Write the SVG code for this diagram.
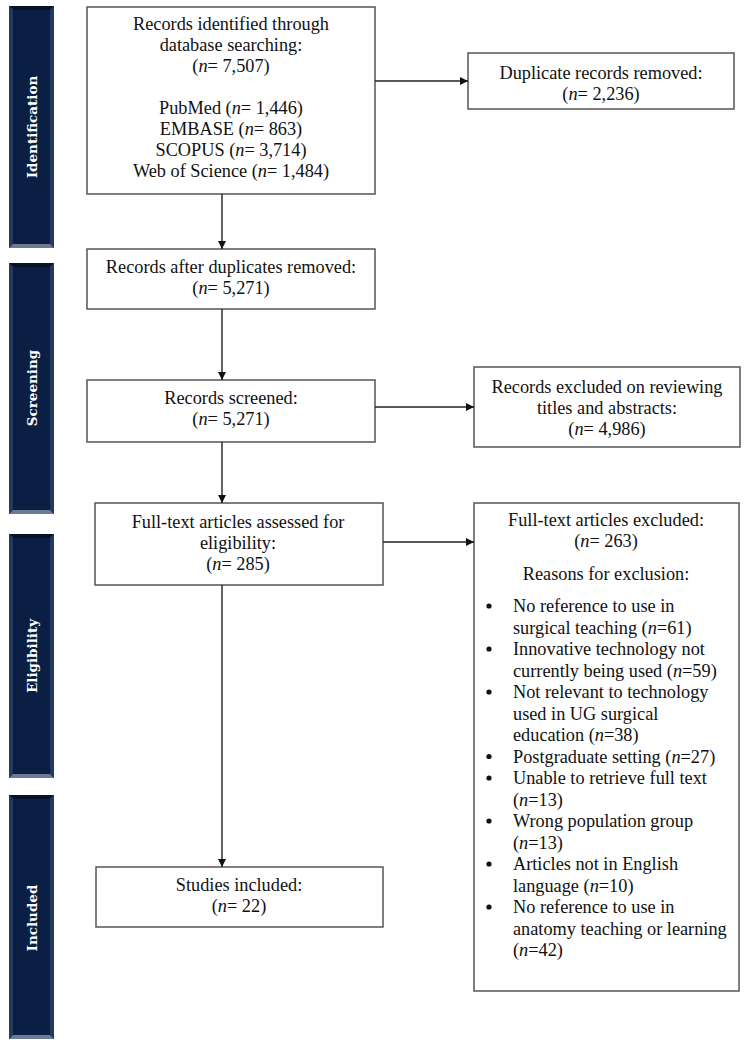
<svg xmlns="http://www.w3.org/2000/svg" width="750" height="1045" viewBox="0 0 750 1045">
<style>
.box{fill:#fff;stroke:#555;stroke-width:1.5}
.t{font-family:"Liberation Serif","Times New Roman",serif;font-size:18.3px;fill:#111;text-anchor:middle}
.tl{font-family:"Liberation Serif","Times New Roman",serif;font-size:18.3px;fill:#111}
.bar-o{fill:#3e5072}
.bar-top{fill:#06122a}
.bar-bot{fill:#6b7b96}
.bar-side{fill:#24395c}
.bar-in{fill:#0b1f44}
.bt{font-family:"DejaVu Serif",serif;font-size:13.5px;font-weight:bold;fill:#fff;text-anchor:middle}
.conn line{stroke:#222;stroke-width:1.4}
</style>
<defs>
<marker id="ah" viewBox="0 0 10 10" refX="10" refY="5" markerUnits="userSpaceOnUse" markerWidth="9" markerHeight="8" orient="auto">
<path d="M0,0 L10,5 L0,10 z" fill="#111"/>
</marker>
</defs>

<g id="phase-identification">
<rect class="bar-o" x="9" y="6" width="45" height="242"/>
<polygon class="bar-top" points="9,6 54,6 50,10 13,10"/>
<polygon class="bar-bot" points="9,248 54,248 50,244 13,244"/>
<polygon class="bar-side" points="9,6 13,10 13,244 9,248"/>
<polygon class="bar-side" points="54,6 50,10 50,244 54,248"/>
<rect class="bar-in" x="13" y="10" width="37" height="234"/>
<text class="bt" transform="translate(36.5,127) rotate(-90)">Identification</text>
</g>
<g id="phase-screening">
<rect class="bar-o" x="9" y="263" width="45" height="251"/>
<polygon class="bar-top" points="9,263 54,263 50,267 13,267"/>
<polygon class="bar-bot" points="9,514 54,514 50,510 13,510"/>
<polygon class="bar-side" points="9,263 13,267 13,510 9,514"/>
<polygon class="bar-side" points="54,263 50,267 50,510 54,514"/>
<rect class="bar-in" x="13" y="267" width="37" height="243"/>
<text class="bt" transform="translate(36.5,388) rotate(-90)">Screening</text>
</g>
<g id="phase-eligibility">
<rect class="bar-o" x="9" y="534" width="45" height="244"/>
<polygon class="bar-top" points="9,534 54,534 50,538 13,538"/>
<polygon class="bar-bot" points="9,778 54,778 50,774 13,774"/>
<polygon class="bar-side" points="9,534 13,538 13,774 9,778"/>
<polygon class="bar-side" points="54,534 50,538 50,774 54,778"/>
<rect class="bar-in" x="13" y="538" width="37" height="236"/>
<text class="bt" transform="translate(36.5,656) rotate(-90)">Eligibility</text>
</g>
<g id="phase-included">
<rect class="bar-o" x="9" y="795" width="45" height="244"/>
<polygon class="bar-top" points="9,795 54,795 50,799 13,799"/>
<polygon class="bar-bot" points="9,1039 54,1039 50,1035 13,1035"/>
<polygon class="bar-side" points="9,795 13,799 13,1035 9,1039"/>
<polygon class="bar-side" points="54,795 50,799 50,1035 54,1039"/>
<rect class="bar-in" x="13" y="799" width="37" height="236"/>
<text class="bt" transform="translate(36.5,918) rotate(-90)">Included</text>
</g>

<g id="records-identified">
<rect class="box" x="87" y="7" width="288" height="187"/>
<text class="t" x="231" y="30">Records identified through</text>
<text class="t" x="231" y="51">database searching:</text>
<text class="t" x="231" y="72">(<tspan font-style="italic">n</tspan>= 7,507)</text>
<text class="t" x="231" y="114">PubMed (<tspan font-style="italic">n</tspan>= 1,446)</text>
<text class="t" x="231" y="135">EMBASE (<tspan font-style="italic">n</tspan>= 863)</text>
<text class="t" x="231" y="156">SCOPUS (<tspan font-style="italic">n</tspan>= 3,714)</text>
<text class="t" x="231" y="177">Web of Science (<tspan font-style="italic">n</tspan>= 1,484)</text>
</g>

<g id="duplicates-removed">
<rect class="box" x="468" y="53" width="266" height="56"/>
<text class="t" x="601" y="79">Duplicate records removed:</text>
<text class="t" x="601" y="100">(<tspan font-style="italic">n</tspan>= 2,236)</text>
</g>

<g id="after-duplicates">
<rect class="box" x="87" y="249" width="288" height="60"/>
<text class="t" x="231" y="273">Records after duplicates removed:</text>
<text class="t" x="231" y="294">(<tspan font-style="italic">n</tspan>= 5,271)</text>
</g>

<g id="records-screened">
<rect class="box" x="87" y="380" width="288" height="62"/>
<text class="t" x="231" y="404">Records screened:</text>
<text class="t" x="231" y="425">(<tspan font-style="italic">n</tspan>= 5,271)</text>
</g>

<g id="records-excluded">
<rect class="box" x="474" y="367" width="266" height="80"/>
<text class="t" x="607" y="393">Records excluded on reviewing</text>
<text class="t" x="607" y="414">titles and abstracts:</text>
<text class="t" x="607" y="435">(<tspan font-style="italic">n</tspan>= 4,986)</text>
</g>

<g id="fulltext-assessed">
<rect class="box" x="95" y="503" width="288" height="82"/>
<text class="t" x="238" y="528">Full-text articles assessed for</text>
<text class="t" x="238" y="549">eligibility:</text>
<text class="t" x="238" y="570">(<tspan font-style="italic">n</tspan>= 285)</text>
</g>

<g id="fulltext-excluded">
<rect class="box" x="474" y="503" width="265" height="488"/>
<text class="t" x="606" y="526">Full-text articles excluded:</text>
<text class="t" x="606" y="547">(<tspan font-style="italic">n</tspan>= 263)</text>
<text class="t" x="606" y="580">Reasons for exclusion:</text>
<g fill="#111">
<circle cx="489" cy="606" r="2.6"/>
<circle cx="489" cy="649" r="2.6"/>
<circle cx="489" cy="692" r="2.6"/>
<circle cx="489" cy="756.5" r="2.6"/>
<circle cx="489" cy="778" r="2.6"/>
<circle cx="489" cy="821" r="2.6"/>
<circle cx="489" cy="864" r="2.6"/>
<circle cx="489" cy="907" r="2.6"/>
</g>
<text class="tl" x="513" y="612">No reference to use in</text>
<text class="tl" x="513" y="633.5">surgical teaching (<tspan font-style="italic">n</tspan>=61)</text>
<text class="tl" x="513" y="655">Innovative technology not</text>
<text class="tl" x="513" y="676.5">currently being used (<tspan font-style="italic">n</tspan>=59)</text>
<text class="tl" x="513" y="698">Not relevant to technology</text>
<text class="tl" x="513" y="719.5">used in UG surgical</text>
<text class="tl" x="513" y="741">education (<tspan font-style="italic">n</tspan>=38)</text>
<text class="tl" x="513" y="762.5">Postgraduate setting (<tspan font-style="italic">n</tspan>=27)</text>
<text class="tl" x="513" y="784">Unable to retrieve full text</text>
<text class="tl" x="513" y="805.5">(<tspan font-style="italic">n</tspan>=13)</text>
<text class="tl" x="513" y="827">Wrong population group</text>
<text class="tl" x="513" y="848.5">(<tspan font-style="italic">n</tspan>=13)</text>
<text class="tl" x="513" y="870">Articles not in English</text>
<text class="tl" x="513" y="891.5">language (<tspan font-style="italic">n</tspan>=10)</text>
<text class="tl" x="513" y="913">No reference to use in</text>
<text class="tl" x="513" y="934.5">anatomy teaching or learning</text>
<text class="tl" x="513" y="956">(<tspan font-style="italic">n</tspan>=42)</text>
</g>

<g id="studies-included">
<rect class="box" x="96" y="867" width="287" height="60"/>
<text class="t" x="239" y="891">Studies included:</text>
<text class="t" x="239" y="912">(<tspan font-style="italic">n</tspan>= 22)</text>
</g>

<g id="connectors" class="conn">
<line x1="222" y1="194" x2="222" y2="249" marker-end="url(#ah)"/>
<line x1="375" y1="81" x2="468" y2="81" marker-end="url(#ah)"/>
<line x1="222" y1="309" x2="222" y2="380" marker-end="url(#ah)"/>
<line x1="375" y1="407" x2="474" y2="407" marker-end="url(#ah)"/>
<line x1="222" y1="442" x2="222" y2="503" marker-end="url(#ah)"/>
<line x1="383" y1="542" x2="474" y2="542" marker-end="url(#ah)"/>
<line x1="222" y1="585" x2="222" y2="867" marker-end="url(#ah)"/>
</g>
</svg>
